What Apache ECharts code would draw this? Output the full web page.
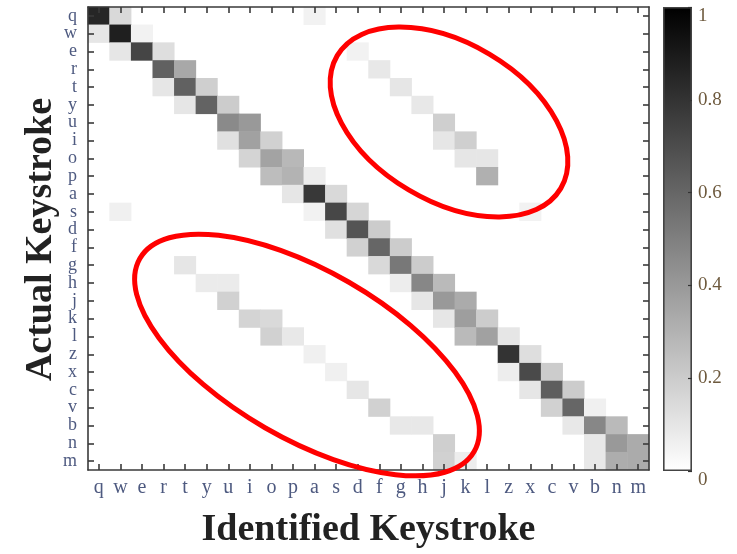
<!DOCTYPE html>
<html><head><meta charset="utf-8">
<script src="https://cdn.jsdelivr.net/npm/echarts@6/dist/echarts.min.js"></script>
<style>html,body{margin:0;padding:0;background:#fff}#c{width:737px;height:554px}</style>
</head><body><div id="c"></div>
<script>
// Key order on both axes
const keys = ['q','w','e','r','t','y','u','i','o','p','a','s','d','f','g','h','j','k','l','z','x','c','v','b','n','m'];

// Non-zero cells: [actual keystroke, identified keystroke, probability]
const cells = [
  ['q','q',0.85],['q','w',0.15],['q','a',0.05],
  ['w','q',0.10],['w','w',0.88],['w','e',0.05],
  ['e','w',0.10],['e','e',0.73],['e','r',0.13],['e','d',0.05],
  ['r','r',0.62],['r','t',0.34],['r','f',0.09],
  ['t','r',0.10],['t','t',0.62],['t','y',0.19],['t','g',0.10],
  ['y','t',0.10],['y','y',0.61],['y','u',0.20],['y','h',0.09],
  ['u','u',0.46],['u','i',0.40],['u','j',0.19],
  ['i','u',0.12],['i','i',0.37],['i','o',0.18],['i','j',0.10],['i','k',0.19],
  ['o','i',0.17],['o','o',0.36],['o','p',0.28],['o','k',0.10],['o','l',0.10],
  ['p','o',0.26],['p','p',0.30],['p','a',0.07],['p','l',0.31],
  ['a','p',0.10],['a','a',0.78],['a','s',0.15],
  ['s','w',0.06],['s','a',0.05],['s','s',0.72],['s','d',0.16],['s','x',0.05],
  ['d','s',0.12],['d','d',0.67],['d','f',0.20],
  ['f','d',0.18],['f','f',0.60],['f','g',0.20],
  ['g','t',0.10],['g','f',0.15],['g','g',0.53],['g','h',0.20],
  ['h','y',0.08],['h','u',0.08],['h','g',0.07],['h','h',0.47],['h','j',0.27],
  ['j','u',0.18],['j','h',0.10],['j','j',0.40],['j','k',0.33],
  ['k','i',0.17],['k','o',0.15],['k','j',0.10],['k','k',0.38],['k','l',0.20],
  ['l','o',0.18],['l','p',0.09],['l','k',0.27],['l','l',0.37],['l','z',0.10],
  ['z','a',0.06],['z','z',0.80],['z','x',0.13],
  ['x','s',0.06],['x','z',0.07],['x','x',0.71],['x','c',0.20],
  ['c','d',0.10],['c','x',0.10],['c','c',0.63],['c','v',0.20],
  ['v','f',0.18],['v','c',0.18],['v','v',0.60],['v','b',0.06],
  ['b','g',0.09],['b','h',0.09],['b','v',0.09],['b','b',0.47],['b','n',0.27],
  ['n','j',0.19],['n','b',0.09],['n','n',0.40],['n','m',0.33],
  ['m','j',0.18],['m','k',0.07],['m','b',0.09],['m','n',0.32],['m','m',0.33]
];

// Colour bar scale
const colorMin = 0;
const colorMax = 1;
const colorStep = 0.2;

// Axis titles
const xTitle = 'Identified Keystroke';
const yTitle = 'Actual Keystroke';

const heatData = cells.map(c => [keys.indexOf(c[1]), keys.indexOf(c[0]), c[2]]);

const serif = "'Liberation Serif','Times New Roman',serif";
const axisColor = '#3a3a3a';
const tickLabelColor = '#4e5a80';
const lineStyle = {color: axisColor, width: 1.6};

const chart = echarts.init(document.getElementById('c'), null, {renderer: 'canvas'});

const G = {left: 88, top: 7, width: 561, height: 463};

chart.setOption({
  animation: false,
  backgroundColor: '#ffffff',
  grid: [
    {left: G.left, top: G.top, width: G.width, height: G.height},
    {left: 663, top: 7, width: 29, height: 464}
  ],
  xAxis: [
    {gridIndex: 0, type: 'category', data: keys, position: 'bottom', z: 10,
     axisLine: {show: true, lineStyle: lineStyle},
     axisTick: {show: true, inside: true, alignWithLabel: true, interval: 0, length: 6, lineStyle: lineStyle},
     axisLabel: {interval: 0, margin: 8, fontSize: 20, color: tickLabelColor, fontFamily: serif},
     splitLine: {show: false}},
    {gridIndex: 0, type: 'category', data: keys, position: 'top', z: 10,
     axisLine: {show: true, lineStyle: lineStyle},
     axisTick: {show: true, inside: true, alignWithLabel: true, interval: 0, length: 6, lineStyle: lineStyle},
     axisLabel: {show: false}, splitLine: {show: false}},
    {gridIndex: 1, type: 'category', data: [''], show: false}
  ],
  yAxis: [
    {gridIndex: 0, type: 'category', data: keys, inverse: true, position: 'left', z: 10,
     axisLine: {show: true, lineStyle: lineStyle},
     axisTick: {show: true, inside: true, alignWithLabel: true, interval: 0, length: 6, lineStyle: lineStyle},
     axisLabel: {interval: 0, margin: 11, fontSize: 18, color: tickLabelColor, fontFamily: serif},
     splitLine: {show: false}},
    {gridIndex: 0, type: 'category', data: keys, inverse: true, position: 'right', z: 10,
     axisLine: {show: true, lineStyle: lineStyle},
     axisTick: {show: true, inside: true, alignWithLabel: true, interval: 0, length: 6, lineStyle: lineStyle},
     axisLabel: {show: false}, splitLine: {show: false}},
    {gridIndex: 1, type: 'value', min: colorMin, max: colorMax, interval: colorStep, position: 'right', z: 10,
     axisLine: {show: false},
     axisTick: {show: true, inside: true, length: 4, lineStyle: {color: '#333', width: 1.2}},
     splitLine: {show: false},
     axisLabel: {margin: 6, fontSize: 19, color: '#6e5a3e', fontFamily: serif,
                 verticalAlignMaxLabel: 'top', verticalAlignMinLabel: 'top'}}
  ],
  visualMap: {
    type: 'continuous', show: false, min: colorMin, max: colorMax, seriesIndex: 0,
    inRange: {color: ['#ffffff', '#000000']}
  },
  series: [
    {type: 'heatmap', xAxisIndex: 0, yAxisIndex: 0, data: heatData, silent: true,
     emphasis: {disabled: true}},
    {type: 'bar', xAxisIndex: 2, yAxisIndex: 2, data: [colorMax], barWidth: '100%', silent: true,
     itemStyle: {
       color: new echarts.graphic.LinearGradient(0, 0, 0, 1, [
         {offset: 0, color: '#000000'}, {offset: 1, color: '#ffffff'}
       ]),
       borderColor: '#444', borderWidth: 1.6
     }}
  ],
  graphic: [
    {type: 'text', x: G.left + G.width / 2, y: 530, z: 50,
     style: {text: xTitle, fill: '#222', font: "bold 38px 'Liberation Serif'", align: 'center', verticalAlign: 'middle'}},
    {type: 'text', x: 41, y: G.top + G.height / 2 + 1, rotation: Math.PI / 2, z: 50,
     style: {text: yTitle, fill: '#222', font: "bold 38px 'Liberation Serif'", align: 'center', verticalAlign: 'middle'}},
    {type: 'ellipse', x: 449, y: 122, rotation: -30.7 * Math.PI / 180, z: 100,
     shape: {cx: 0, cy: 0, rx: 130, ry: 79},
     style: {fill: 'none', stroke: '#ff0000', lineWidth: 5}},
    {type: 'ellipse', x: 307, y: 355, rotation: -30 * Math.PI / 180, z: 100,
     shape: {cx: 0, cy: 0, rx: 193, ry: 84},
     style: {fill: 'none', stroke: '#ff0000', lineWidth: 5}}
  ]
});
</script>
</body></html>
